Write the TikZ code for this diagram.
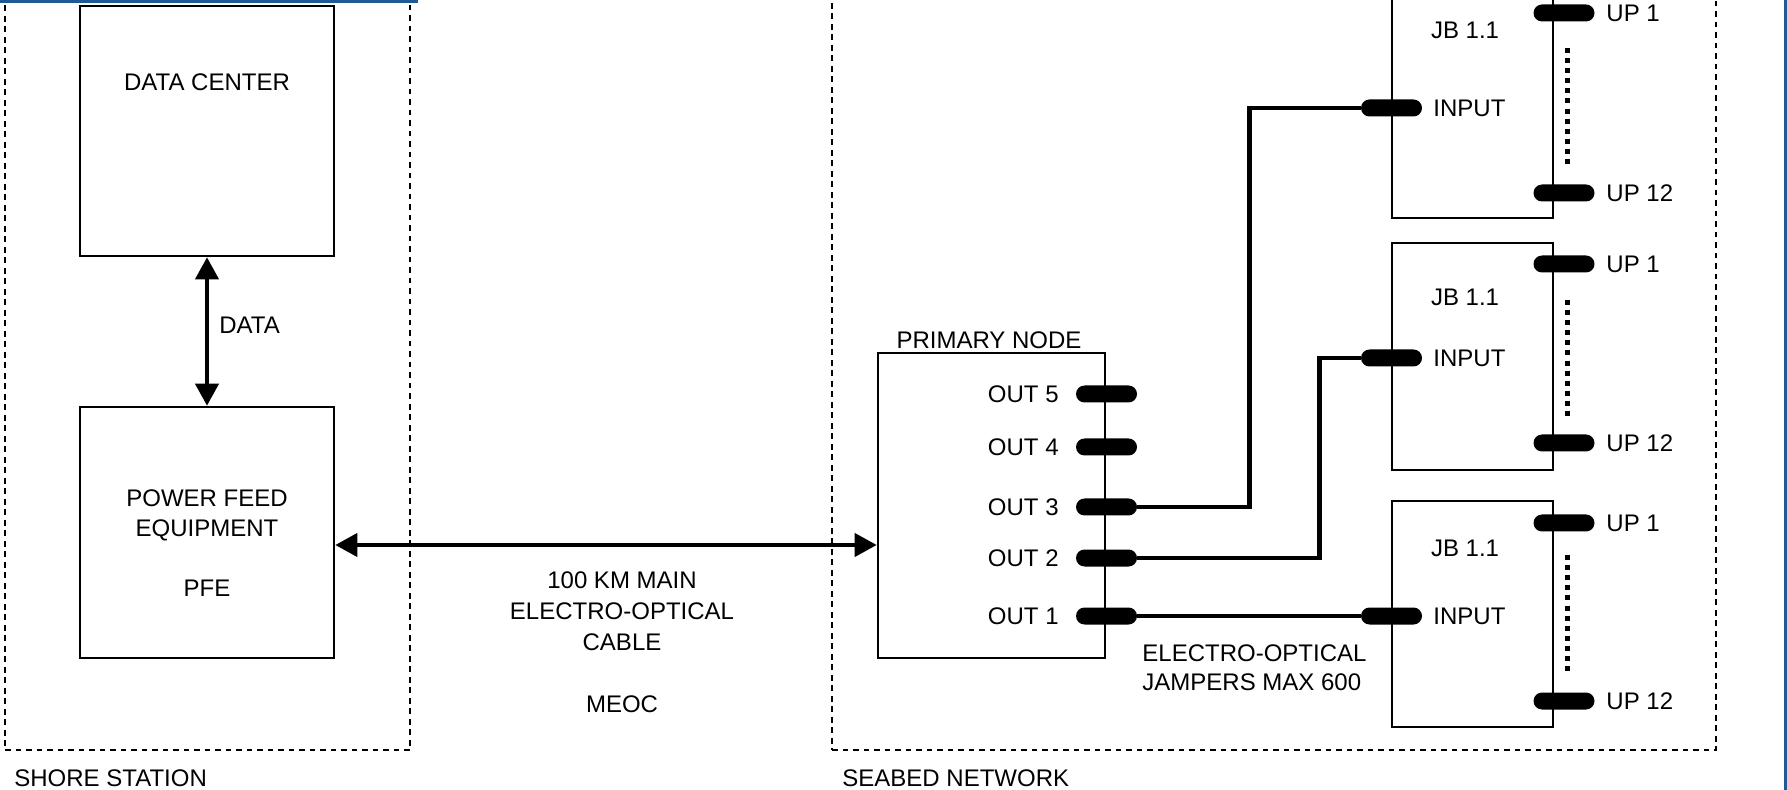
\documentclass[tikz,border=0pt]{standalone}
\usepackage{fontspec}
\setmainfont{Liberation Sans}
\usetikzlibrary{arrows.meta}
\definecolor{selblue}{RGB}{30,90,150}
\tikzset{
  blk/.style={draw=black, line width=1.3pt, fill=white, inner sep=0pt},
  zone/.style={draw=black, line width=1.1pt, dash pattern=on 2.8pt off 2.45pt, inner sep=0pt},
  pin/.style={fill=black, rounded corners=4.25pt, minimum width=30.5pt, minimum height=8.5pt, inner sep=0pt},
  biarrow/.style={line width=2pt, {Triangle[width=11.5pt,length=11pt]}-{Triangle[width=11.5pt,length=11pt]}},
  wire/.style={line width=2.1pt},
  dotsline/.style={line width=2.5pt, dash pattern=on 2.5pt off 2.55pt},
  lbl/.style={font=\fontsize{12}{14}\selectfont, inner sep=0pt, text height=8.6pt, text depth=0pt},
  mlbl/.style={font=\fontsize{12}{#1}\selectfont, inner sep=0pt},
  selline/.style={draw=selblue, line width=1.6pt}
}
\begin{document}
\begin{tikzpicture}[x=0.5pt,y=-0.5pt]
\useasboundingbox (0,0) rectangle (1787,790);

% zones
\node[zone, minimum width=202.5pt, minimum height=380pt] (shore) at (207.5,370) {};
\node[zone, minimum width=442pt, minimum height=380pt] (seabed) at (1274,370) {};

% shore station boxes
\node[blk, minimum width=127pt, minimum height=125pt] (dc) at (207,131) {};
\node[lbl] (dct) at (207,82) {DATA CENTER};
\node[blk, minimum width=127pt, minimum height=125.5pt] (pfe) at (207,532.5) {};
\node[mlbl=15pt, align=center] (pfet) at (207,543) {POWER FEED\\EQUIPMENT\\[15pt]PFE};

\draw[biarrow] (dc.south) -- (pfe.north);
\node[lbl, anchor=west] (datat) at (219,325) {DATA};

% primary node
\node[blk, minimum width=113.5pt, minimum height=152.5pt] (pn) at (991.5,505.5) {};
\node[lbl] (pnt) at (989,340) {PRIMARY NODE};

\coordinate (cab) at (600,545);
\draw[biarrow] (pfe.east |- cab) -- (pn.west |- cab);
\node[mlbl=15.5pt, align=center] (cabt) at (622,642) {100 KM MAIN\\ELECTRO-OPTICAL\\CABLE\\[15.5pt]MEOC};

% junction boxes
\node[blk, minimum width=80.5pt, minimum height=113.5pt] (jb1) at (1472.5,104.5) {};
\node[blk, minimum width=80.5pt, minimum height=113.5pt] (jb2) at (1472.5,356.5) {};
\node[blk, minimum width=80.5pt, minimum height=113pt] (jb3) at (1472.5,614) {};

\node[lbl] (jb1t) at (1465,30) {JB 1.1};
\node[lbl] (jb2t) at (1465,297) {JB 1.1};
\node[lbl] (jb3t) at (1465,548) {JB 1.1};

% dotted ellipsis lines
\coordinate (d1a) at (1567,48);  \coordinate (d1b) at (1567,164);
\coordinate (d2a) at (1567,300); \coordinate (d2b) at (1567,416);
\coordinate (d3a) at (1567,555); \coordinate (d3b) at (1567,672);
\draw[dotsline] (d1a) -- (d1b);
\draw[dotsline] (d2a) -- (d2b);
\draw[dotsline] (d3a) -- (d3b);

% output pins
\node[pin] (o5) at (1106.5,394) {};
\node[pin] (o4) at (1106.5,447) {};
\node[pin] (o3) at (1106.5,507) {};
\node[pin] (o2) at (1106.5,558) {};
\node[pin] (o1) at (1106.5,616) {};
\node[lbl, anchor=east] (o5t) at (1059,394) {OUT 5};
\node[lbl, anchor=east] (o4t) at (1059,447) {OUT 4};
\node[lbl, anchor=east] (o3t) at (1059,507) {OUT 3};
\node[lbl, anchor=east] (o2t) at (1059,558) {OUT 2};
\node[lbl, anchor=east] (o1t) at (1059,616) {OUT 1};

% JB pins
\node[pin] (in1) at (1391.5,108) {};
\node[pin] (in2) at (1391.5,358) {};
\node[pin] (in3) at (1391.5,616) {};
\node[lbl, anchor=west] (in1t) at (1433,108) {INPUT};
\node[lbl, anchor=west] (in2t) at (1433,358) {INPUT};
\node[lbl, anchor=west] (in3t) at (1433,616) {INPUT};

\node[pin] (u1a) at (1564,13) {};
\node[pin] (u1b) at (1564,193) {};
\node[pin] (u2a) at (1564,264) {};
\node[pin] (u2b) at (1564,443) {};
\node[pin] (u3a) at (1564,523) {};
\node[pin] (u3b) at (1564,701) {};
\node[lbl, anchor=west] (u1at) at (1606,13) {UP 1};
\node[lbl, anchor=west] (u1bt) at (1606,193) {UP 12};
\node[lbl, anchor=west] (u2at) at (1606,264) {UP 1};
\node[lbl, anchor=west] (u2bt) at (1606,443) {UP 12};
\node[lbl, anchor=west] (u3at) at (1606,523) {UP 1};
\node[lbl, anchor=west] (u3bt) at (1606,701) {UP 12};

% jumper wires
\draw[wire] (o3.east) -- ++(112,0) |- (in1.west);
\draw[wire] (o2.east) -- ++(182,0) |- (in2.west);
\draw[wire] (o1.east) -- (in3.west);
\node[mlbl=14.5pt, align=left, anchor=west] (jt) at (1142,667.5) {ELECTRO-OPTICAL\\JAMPERS MAX 600};

% zone labels
\node[lbl, anchor=west] (shoret) at (14,778) {SHORE STATION};
\node[lbl, anchor=west] (seabedt) at (842,778) {SEABED NETWORK};

% selection edges
\draw[selline] (0,1.5) -- (418,1.5);
\draw[selline] (1785.5,0) -- (1785.5,790);
\end{tikzpicture}
\end{document}
